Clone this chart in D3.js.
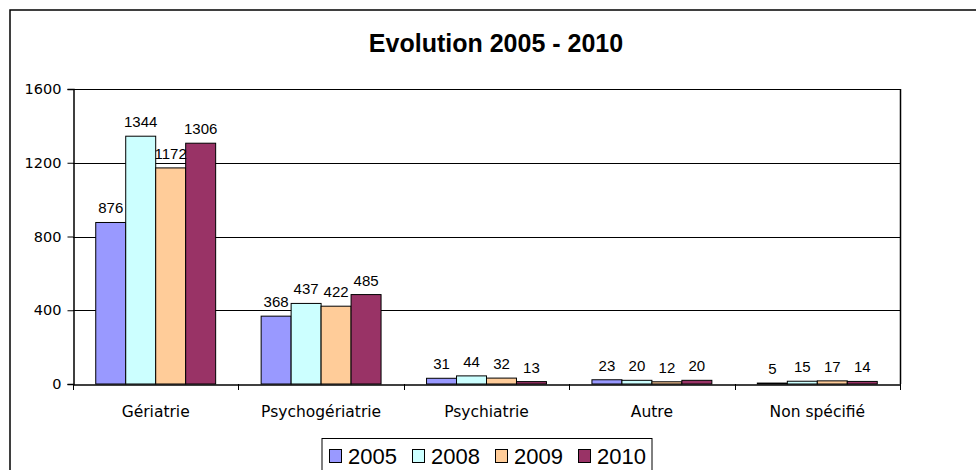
<!DOCTYPE html>
<html>
<head>
<meta charset="utf-8">
<script src="https://cdn.jsdelivr.net/npm/d3@7"></script>
<style>
  html, body { margin: 0; padding: 0; background: #fff; }
  svg { display: block; }
</style>
</head>
<body>
<svg id="chart" width="976" height="470"></svg>
<script>
// Admissions by type, 2005 - 2010
const categories = ["Gériatrie", "Psychogériatrie", "Psychiatrie", "Autre", "Non spécifié"];
const years = ["2005", "2008", "2009", "2010"];
const values2005 = [876, 368, 31, 23, 5];
const values2008 = [1344, 437, 44, 20, 15];
const values2009 = [1172, 422, 32, 12, 17];
const values2010 = [1306, 485, 13, 20, 14];
const yTicks = [0, 400, 800, 1200, 1600];
const title = "Evolution 2005 - 2010";

const seriesValues = [values2005, values2008, values2009, values2010];
const colors = ["#9999FF", "#CCFFFF", "#FFCC99", "#993366"];

const svg = d3.select("#chart");
const plot = { left: 73, right: 900, top: 89, bottom: 384 };

// Outer chart frame
svg.append("rect")
  .attr("x", 10).attr("y", 10)
  .attr("width", 990).attr("height", 490)
  .attr("fill", "#fff").attr("stroke", "#000").attr("stroke-width", 1.5);

// Title
svg.append("text")
  .attr("x", 496).attr("y", 52)
  .attr("text-anchor", "middle")
  .attr("font-family", "'Liberation Sans', Arial, sans-serif")
  .attr("font-weight", "bold")
  .attr("font-size", 25)
  .attr("fill", "#000")
  .text(title);

const x0 = d3.scaleBand().domain(categories).range([plot.left, plot.right]).paddingInner(0).paddingOuter(0);
const gap = 0.275; // empty share of each band around its bar group
const x1 = d3.scaleBand().domain(years)
  .range([x0.bandwidth() * gap / 2, x0.bandwidth() * (1 - gap / 2)]).padding(0);
const y = d3.scaleLinear().domain([0, 1600]).range([plot.bottom, plot.top]);

// Gridlines
svg.append("g")
  .selectAll("line")
  .data(yTicks.filter(t => t > 0))
  .join("line")
  .attr("x1", plot.left).attr("x2", plot.right)
  .attr("y1", d => Math.round(y(d)) + 0.5).attr("y2", d => Math.round(y(d)) + 0.5)
  .attr("stroke", "#000").attr("stroke-width", 1);

// Right edge of the plot area
svg.append("line")
  .attr("x1", plot.right + 0.5).attr("x2", plot.right + 0.5)
  .attr("y1", plot.top).attr("y2", plot.bottom)
  .attr("stroke", "#000").attr("stroke-width", 1.5);

// Y axis
const yAxis = svg.append("g")
  .attr("transform", `translate(${plot.left + 0.5},0)`)
  .call(d3.axisLeft(y).tickValues(yTicks).tickSize(6).tickPadding(6).tickFormat(d3.format("d")));
yAxis.select(".domain").attr("stroke", "#000").attr("stroke-width", 1.5);
yAxis.selectAll(".tick line").attr("stroke", "#000");
yAxis.selectAll(".tick text")
  .attr("font-family", "'DejaVu Sans', sans-serif")
  .attr("font-size", 14.5)
  .attr("fill", "#000");

// Bars
const groups = svg.append("g")
  .selectAll("g")
  .data(categories)
  .join("g")
  .attr("transform", d => `translate(${x0(d)},0)`);

groups.selectAll("rect")
  .data((c, i) => years.map((yr, s) => ({ yr, s, v: seriesValues[s][i] })))
  .join("rect")
  .attr("x", d => x1(d.yr))
  .attr("y", d => y(d.v))
  .attr("width", x1.bandwidth())
  .attr("height", d => y(0) - y(d.v))
  .attr("fill", d => colors[d.s])
  .attr("stroke", "#000")
  .attr("stroke-width", 1);

// Value labels
groups.selectAll("text")
  .data((c, i) => years.map((yr, s) => ({ yr, s, v: seriesValues[s][i] })))
  .join("text")
  .attr("x", d => x1(d.yr) + x1.bandwidth() / 2)
  .attr("y", d => y(d.v) - 9)
  .attr("text-anchor", "middle")
  .attr("font-family", "'Liberation Sans', Arial, sans-serif")
  .attr("font-size", 15)
  .attr("fill", "#000")
  .text(d => d.v);

// X axis
const xAxis = svg.append("g")
  .attr("transform", `translate(0,${plot.bottom + 0.5})`)
  .call(d3.axisBottom(x0).tickSize(0).tickPadding(21));
xAxis.select(".domain").attr("stroke", "#000").attr("stroke-width", 1.5);
xAxis.selectAll(".tick text")
  .attr("font-family", "'DejaVu Sans', sans-serif")
  .attr("font-size", 15.5)
  .attr("fill", "#000");

// Category separator ticks
const bounds = categories.map(c => x0(c)).concat([plot.right]);
svg.append("g")
  .selectAll("line")
  .data(bounds)
  .join("line")
  .attr("x1", d => Math.round(d) + 0.5).attr("x2", d => Math.round(d) + 0.5)
  .attr("y1", plot.bottom).attr("y2", plot.bottom + 6)
  .attr("stroke", "#000").attr("stroke-width", 1);

// Legend
const legend = svg.append("g");
legend.append("rect")
  .attr("x", 322).attr("y", 438.5)
  .attr("width", 330).attr("height", 40)
  .attr("fill", "#fff").attr("stroke", "#000").attr("stroke-width", 1);
const items = legend.selectAll("g")
  .data(years)
  .join("g")
  .attr("transform", (d, i) => `translate(${329 + i * 83},0)`);
items.append("rect")
  .attr("x", 0.5).attr("y", 449.5)
  .attr("width", 12).attr("height", 13)
  .attr("fill", (d, i) => colors[i])
  .attr("stroke", "#000").attr("stroke-width", 1);
items.append("text")
  .attr("x", 19).attr("y", 464)
  .attr("font-family", "'Liberation Sans', Arial, sans-serif")
  .attr("font-size", 22)
  .attr("fill", "#000")
  .text(d => d);
</script>
</body>
</html>
